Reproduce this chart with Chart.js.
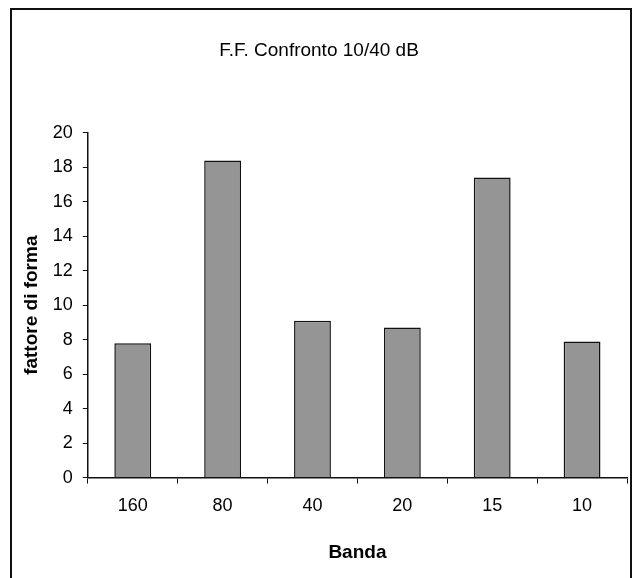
<!DOCTYPE html>
<html>
<head>
<meta charset="utf-8">
<script src="https://cdn.jsdelivr.net/npm/chart.js@4/dist/chart.umd.min.js"></script>
<style>
    html, body { margin: 0; padding: 0; background: #fff; }
    #wrap { position: relative; width: 638px; height: 578px; overflow: hidden; }
    #frame {
        position: absolute; left: 10px; top: 8px; width: 622px; height: 600px;
        border: 2px solid #111; box-sizing: border-box;
    }
    canvas { position: absolute; left: 0; top: 0; }
</style>
</head>
<body>
<div id="wrap">
    <div id="frame"></div>
    <canvas id="chart" width="638" height="578"></canvas>
</div>
<script>
// Chart data
const categories = ['160', '80', '40', '20', '15', '10'];
const formFactor = [7.8, 18.4, 9.1, 8.7, 17.4, 7.9];

const chartTitle = 'F.F. Confronto 10/40 dB';
const xTitle = 'Banda';
const yTitle = 'fattore di forma';

const fontFamily = "'Liberation Sans', Arial, sans-serif";

const ctx = document.getElementById('chart').getContext('2d');
new Chart(ctx, {
    type: 'bar',
    data: {
        labels: categories,
        datasets: [{
            data: formFactor,
            backgroundColor: '#959595',
            borderColor: '#111',
            borderWidth: 1.5,
            categoryPercentage: 1,
            barPercentage: 0.41
        }]
    },
    options: {
        responsive: false,
        animation: false,
        layout: {
            padding: { top: 0, right: 11, bottom: 14, left: 11 }
        },
        plugins: {
            legend: { display: false },
            tooltip: { enabled: false },
            title: {
                display: true,
                text: chartTitle,
                color: '#000',
                font: { family: fontFamily, size: 19, weight: 'normal' },
                padding: { top: 39, bottom: 71 }
            }
        },
        scales: {
            x: {
                grid: {
                    drawOnChartArea: false,
                    color: '#111',
                    tickLength: 6,
                    offset: true
                },
                border: { color: '#111', width: 1.5 },
                ticks: {
                    color: '#000',
                    padding: 12,
                    font: { family: fontFamily, size: 18 }
                },
                title: {
                    display: true,
                    text: xTitle,
                    color: '#000',
                    font: { family: fontFamily, size: 19, weight: 'bold' },
                    padding: { top: 12, bottom: 0 }
                }
            },
            y: {
                min: 0,
                max: 20,
                grid: {
                    drawOnChartArea: false,
                    color: '#111',
                    tickLength: 5
                },
                border: { color: '#111', width: 1.5 },
                ticks: {
                    stepSize: 2,
                    color: '#000',
                    padding: 10,
                    font: { family: fontFamily, size: 18 }
                },
                title: {
                    display: true,
                    text: yTitle,
                    color: '#000',
                    font: { family: fontFamily, size: 19, weight: 'bold' },
                    padding: { top: 9, bottom: 0 }
                }
            }
        }
    }
});
</script>
</body>
</html>
